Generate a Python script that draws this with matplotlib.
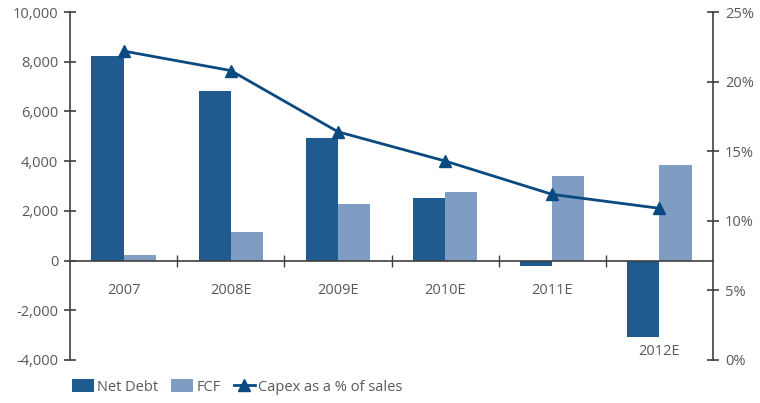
import numpy as np
import matplotlib
matplotlib.use('Agg')
import matplotlib.pyplot as plt
from matplotlib.ticker import FuncFormatter

plt.rcParams['font.family'] = ['Open Sans', 'DejaVu Sans']

# Data
years = ['2007', '2008E', '2009E', '2010E', '2011E', '2012E']
net_debt = [8230, 6820, 4920, 2500, -230, -3090]
fcf = [240, 1170, 2260, 2780, 3400, 3830]
capex_pct = [22.2, 20.8, 16.4, 14.3, 11.9, 10.9]
label_y = [-1210, -1210, -1210, -1210, -1210, -3670]

NAVY = '#1f5b8e'
LIGHT = '#7f9cc2'
LINE = '#0b4a80'
AXIS = '#404040'
TEXT = '#595959'

fig = plt.figure(figsize=(7.6, 4.03), dpi=100)
ax = fig.add_axes([0.0921, 0.1067, 0.8461, 0.8633])
ax2 = ax.twinx()

x = np.arange(len(years))
w = 0.3
b1 = ax.bar(x - w / 2, net_debt, w, color=NAVY, label='Net Debt', zorder=2)
b2 = ax.bar(x + w / 2, fcf, w, color=LIGHT, label='FCF', zorder=2)
l1, = ax2.plot(x, capex_pct, color=LINE, lw=2.0, marker='^', markersize=8,
               label='Capex as a % of sales', zorder=3)

ax.set_xlim(-0.5, len(years) - 0.5)
ax.set_ylim(-4000, 10000)
ax2.set_ylim(0, 25)
ax.set_yticks(range(-4000, 10001, 2000))
ax.yaxis.set_major_formatter(FuncFormatter(lambda v, p: f'{int(v):,}'))
ax2.set_yticks(range(0, 26, 5))
ax2.yaxis.set_major_formatter(FuncFormatter(lambda v, p: f'{int(v)}%'))

# zero baseline with category separators
for a in (ax, ax2):
    a.spines['top'].set_visible(False)
ax2.spines['left'].set_visible(False)
ax2.spines['bottom'].set_visible(False)
ax.spines['right'].set_visible(False)
ax.spines['bottom'].set_position(('data', 0))
for s in ('left', 'bottom'):
    ax.spines[s].set_color(AXIS)
    ax.spines[s].set_linewidth(1.2)
ax2.spines['right'].set_color(AXIS)
ax2.spines['right'].set_linewidth(1.2)

ax.set_xticks(x[:-1] + 0.5)
ax.set_xticklabels([])
ax.tick_params(axis='x', direction='inout', length=9, width=1, color=AXIS)
ax.tick_params(axis='y', direction='inout', length=9, width=1.2, color=AXIS,
               labelsize=10.5, labelcolor=TEXT, pad=4)
ax2.tick_params(axis='y', direction='inout', length=9, width=1.2, color=AXIS,
                labelsize=10.5, labelcolor=TEXT, pad=4)

for xi, lab, ly in zip(x, years, label_y):
    ax.text(xi, ly, lab, ha='center', va='center', fontsize=10.5, color=TEXT)

leg = fig.legend([b1, b2, l1], ['Net Debt', 'FCF', 'Capex as a % of sales'],
                 loc='lower left', bbox_to_anchor=(0.078, -0.012), ncol=3,
                 frameon=False, fontsize=10.5, handlelength=1.45,
                 handleheight=1.0, handletextpad=0.25, columnspacing=0.9,
                 labelcolor=TEXT)

fig.savefig('out.png', dpi=100)
